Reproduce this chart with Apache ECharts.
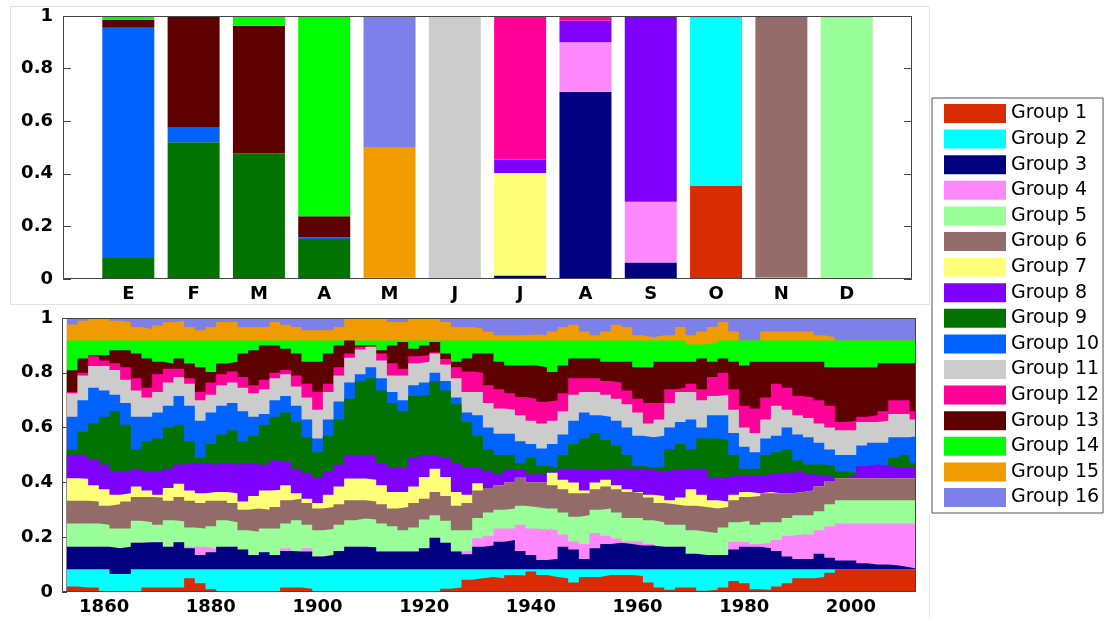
<!DOCTYPE html>
<html>
<head>
<meta charset="utf-8">
<script src="https://cdn.jsdelivr.net/npm/echarts@6.0.0/dist/echarts.min.js"></script>
<style>
html,body{margin:0;padding:0;background:#fff;}
#c{width:1105px;height:619px;}
</style>
</head>
<body>
<div id="c"></div>
<script>
// ---------- categories / labels ----------
const months = ['E','F','M','A','M','J','J','A','S','O','N','D'];
const groupNames = ['Group 1','Group 2','Group 3','Group 4','Group 5','Group 6','Group 7','Group 8',
  'Group 9','Group 10','Group 11','Group 12','Group 13','Group 14','Group 15','Group 16'];
const groupColors = ['#d92b04','#00ffff','#000080','#ff88ff','#99ff99','#936b68','#ffff77','#8000ff',
  '#007300','#0062ff','#cccccc','#ff0099','#5e0000','#00ff00','#f09c00','#7d80e8'];
const yearTicks = [1860,1880,1900,1920,1940,1960,1980,2000];

// ---------- top panel: monthly share of each group (E..D) ----------
const mG1  = [0,0,0,0,0,0,0,0,0,0.354,0,0];
const mG2  = [0,0,0,0,0,0,0,0,0,0.641,0,0];
const mG3  = [0,0,0,0,0,0,0.013,0.712,0.063,0,0,0];
const mG4  = [0,0,0,0,0,0,0,0.188,0.231,0,0,0];
const mG5  = [0,0,0,0,0,0,0,0,0,0,0.006,0.995];
const mG6  = [0,0,0,0,0,0,0,0,0,0,0.994,0];
const mG7  = [0,0,0,0,0,0,0.39,0,0,0,0,0];
const mG8  = [0,0,0,0,0,0,0.05,0.082,0.703,0,0,0];
const mG9  = [0.08,0.52,0.478,0.152,0,0,0,0,0,0,0,0];
const mG10 = [0.875,0.058,0,0.006,0,0,0,0,0,0,0,0];
const mG11 = [0,0,0,0,0,0.995,0,0,0,0,0,0];
const mG12 = [0,0,0,0,0,0,0.547,0.018,0.003,0.005,0,0];
const mG13 = [0.03,0.422,0.485,0.081,0,0,0,0,0,0,0,0];
const mG14 = [0.015,0,0.037,0.761,0.005,0,0,0,0,0,0,0];
const mG15 = [0,0,0,0,0.497,0.005,0,0,0,0,0,0];
const mG16 = [0,0,0,0,0.498,0,0,0,0,0,0,0.005];

// ---------- bottom panel: years (start of each 2-year step) ----------
const years = [
 1853,1855,1857,1859,1861,1863,1865,1867,1869,1871,
 1873,1875,1877,1879,1881,1883,1885,1887,1889,1891,
 1893,1895,1897,1899,1901,1903,1905,1907,1909,1911,
 1913,1915,1917,1919,1921,1923,1925,1927,1929,1931,
 1933,1935,1937,1939,1941,1943,1945,1947,1949,1951,
 1953,1955,1957,1959,1961,1963,1965,1967,1969,1971,
 1973,1975,1977,1979,1981,1983,1985,1987,1989,1991,
 1993,1995,1997,1999,2001,2003,2005,2007,2009,2011];
const yearEnd = 2013;

// upper edge of each group's band (cumulative share)
const edge1 = [
 0.02,0.016,0.016,0,0,0,0,0.016,0.016,0.016,
 0.016,0.05,0.032,0.01,0,0,0,0,0,0,
 0.016,0.016,0.012,0,0,0,0,0,0,0,
 0,0,0,0,0,0.012,0.016,0.045,0.05,0.055,
 0.05,0.062,0.06,0.075,0.062,0.055,0.05,0.035,0.055,0.055,
 0.062,0.062,0.062,0.058,0.035,0.016,0.008,0.016,0.016,0.005,
 0.008,0.016,0.04,0.032,0.01,0.008,0.02,0.032,0.05,0.05,
 0.055,0.07,0.083,0.083,0.083,0.083,0.083,0.083,0.083,0.083];
const edge2 = [
 0.083,0.083,0.083,0.083,0.066,0.066,0.083,0.083,0.083,0.083,
 0.083,0.083,0.083,0.083,0.083,0.083,0.083,0.083,0.083,0.083,
 0.083,0.083,0.083,0.083,0.083,0.083,0.083,0.083,0.083,0.083,
 0.083,0.083,0.083,0.083,0.083,0.083,0.083,0.083,0.083,0.083,
 0.083,0.083,0.083,0.083,0.083,0.083,0.083,0.083,0.083,0.083,
 0.083,0.083,0.083,0.083,0.083,0.083,0.083,0.083,0.083,0.083,
 0.083,0.083,0.083,0.083,0.083,0.083,0.083,0.083,0.083,0.083,
 0.083,0.083,0.083,0.083,0.083,0.083,0.083,0.083,0.083,0.083];
const edge3 = [
 0.165,0.165,0.165,0.165,0.16,0.165,0.18,0.182,0.182,0.165,
 0.182,0.16,0.135,0.145,0.165,0.165,0.155,0.135,0.145,0.135,
 0.15,0.148,0.148,0.13,0.135,0.15,0.165,0.165,0.163,0.148,
 0.148,0.148,0.148,0.16,0.198,0.18,0.148,0.138,0.165,0.17,
 0.183,0.19,0.15,0.135,0.117,0.12,0.165,0.155,0.12,0.16,
 0.175,0.18,0.175,0.17,0.17,0.165,0.165,0.165,0.14,0.135,
 0.135,0.135,0.155,0.165,0.165,0.16,0.15,0.13,0.12,0.12,
 0.14,0.125,0.115,0.115,0.105,0.1,0.1,0.097,0.09,0.083];
const edge4 = [
 0.165,0.165,0.165,0.165,0.16,0.165,0.18,0.182,0.182,0.165,
 0.182,0.165,0.165,0.158,0.165,0.165,0.155,0.135,0.145,0.135,
 0.16,0.148,0.16,0.13,0.135,0.15,0.165,0.165,0.163,0.148,
 0.148,0.148,0.148,0.16,0.198,0.18,0.148,0.15,0.196,0.205,
 0.232,0.232,0.245,0.232,0.228,0.228,0.21,0.185,0.175,0.215,
 0.205,0.195,0.185,0.185,0.175,0.165,0.165,0.165,0.14,0.135,
 0.135,0.135,0.183,0.183,0.175,0.18,0.19,0.205,0.21,0.21,
 0.225,0.24,0.25,0.25,0.25,0.25,0.25,0.25,0.25,0.25];
const edge5 = [
 0.25,0.25,0.25,0.245,0.232,0.232,0.26,0.255,0.245,0.262,
 0.258,0.235,0.232,0.24,0.262,0.255,0.225,0.22,0.232,0.232,
 0.25,0.262,0.245,0.225,0.23,0.245,0.262,0.268,0.265,0.25,
 0.24,0.225,0.235,0.265,0.28,0.26,0.225,0.225,0.27,0.29,
 0.3,0.305,0.315,0.31,0.305,0.305,0.29,0.275,0.28,0.3,
 0.305,0.29,0.27,0.27,0.262,0.255,0.245,0.245,0.225,0.22,
 0.215,0.235,0.255,0.26,0.245,0.255,0.255,0.27,0.28,0.28,
 0.295,0.32,0.335,0.335,0.335,0.335,0.335,0.335,0.335,0.335];
const edge6 = [
 0.333,0.333,0.33,0.315,0.32,0.33,0.347,0.347,0.345,0.333,
 0.347,0.333,0.325,0.333,0.333,0.325,0.3,0.305,0.3,0.31,
 0.335,0.34,0.325,0.305,0.31,0.32,0.335,0.335,0.33,0.32,
 0.305,0.31,0.325,0.34,0.365,0.35,0.315,0.325,0.37,0.38,
 0.39,0.4,0.42,0.4,0.4,0.39,0.375,0.36,0.36,0.375,
 0.385,0.375,0.365,0.36,0.345,0.325,0.32,0.315,0.315,0.31,
 0.305,0.31,0.335,0.347,0.35,0.36,0.36,0.36,0.365,0.37,
 0.385,0.405,0.415,0.415,0.415,0.415,0.415,0.415,0.415,0.415];
const edge7 = [
 0.415,0.413,0.39,0.375,0.355,0.36,0.385,0.37,0.355,0.38,
 0.395,0.37,0.36,0.365,0.365,0.36,0.33,0.35,0.37,0.372,
 0.39,0.36,0.34,0.325,0.355,0.385,0.414,0.414,0.41,0.39,
 0.365,0.365,0.385,0.42,0.45,0.42,0.365,0.355,0.397,0.38,
 0.39,0.4,0.42,0.4,0.4,0.435,0.41,0.4,0.37,0.4,
 0.41,0.39,0.375,0.365,0.355,0.35,0.335,0.345,0.375,0.355,
 0.335,0.33,0.355,0.365,0.36,0.365,0.36,0.36,0.365,0.37,
 0.385,0.405,0.415,0.415,0.415,0.415,0.415,0.415,0.415,0.415];
const edge8 = [
 0.5,0.495,0.485,0.465,0.44,0.44,0.45,0.44,0.44,0.45,
 0.465,0.47,0.47,0.465,0.47,0.465,0.47,0.465,0.465,0.48,
 0.475,0.45,0.435,0.42,0.44,0.465,0.5,0.5,0.495,0.47,
 0.455,0.455,0.49,0.5,0.5,0.49,0.47,0.455,0.45,0.44,
 0.43,0.445,0.45,0.43,0.43,0.44,0.45,0.45,0.445,0.445,
 0.45,0.45,0.45,0.45,0.445,0.44,0.445,0.45,0.45,0.45,
 0.42,0.42,0.425,0.425,0.425,0.43,0.435,0.435,0.44,0.43,
 0.425,0.42,0.42,0.425,0.46,0.465,0.46,0.455,0.455,0.455];
const edge9 = [
 0.52,0.585,0.615,0.64,0.66,0.61,0.52,0.55,0.56,0.6,
 0.61,0.55,0.49,0.54,0.575,0.59,0.55,0.57,0.61,0.64,
 0.655,0.62,0.565,0.51,0.57,0.63,0.705,0.77,0.78,0.735,
 0.69,0.66,0.715,0.72,0.77,0.735,0.685,0.62,0.57,0.52,
 0.5,0.5,0.47,0.49,0.46,0.455,0.5,0.54,0.56,0.58,
 0.555,0.535,0.5,0.46,0.455,0.455,0.52,0.54,0.52,0.56,
 0.56,0.555,0.5,0.45,0.45,0.5,0.51,0.52,0.48,0.465,
 0.465,0.46,0.44,0.435,0.46,0.465,0.46,0.49,0.5,0.47];
const edge10 = [
 0.64,0.7,0.745,0.735,0.72,0.69,0.64,0.64,0.655,0.68,
 0.715,0.68,0.625,0.655,0.68,0.69,0.66,0.64,0.65,0.7,
 0.715,0.68,0.63,0.56,0.63,0.695,0.765,0.795,0.82,0.78,
 0.73,0.7,0.755,0.765,0.8,0.77,0.71,0.655,0.645,0.6,
 0.578,0.578,0.55,0.54,0.524,0.54,0.575,0.625,0.655,0.645,
 0.64,0.625,0.6,0.57,0.565,0.57,0.6,0.62,0.63,0.6,
 0.645,0.645,0.58,0.53,0.51,0.56,0.57,0.6,0.575,0.565,
 0.545,0.52,0.5,0.5,0.535,0.545,0.545,0.565,0.565,0.57];
const edge11 = [
 0.725,0.79,0.825,0.825,0.81,0.775,0.735,0.71,0.73,0.765,
 0.785,0.76,0.7,0.72,0.755,0.765,0.745,0.725,0.74,0.78,
 0.795,0.75,0.71,0.665,0.73,0.79,0.855,0.885,0.895,0.845,
 0.79,0.79,0.835,0.84,0.87,0.83,0.78,0.73,0.73,0.69,
 0.67,0.665,0.645,0.625,0.615,0.625,0.66,0.72,0.73,0.73,
 0.72,0.705,0.685,0.655,0.615,0.63,0.69,0.73,0.73,0.7,
 0.715,0.72,0.665,0.6,0.58,0.63,0.68,0.665,0.645,0.635,
 0.615,0.6,0.59,0.59,0.62,0.62,0.625,0.65,0.65,0.63];
const edge12 = [
 0.73,0.8,0.86,0.845,0.835,0.82,0.78,0.745,0.795,0.815,
 0.815,0.78,0.73,0.765,0.795,0.805,0.785,0.755,0.775,0.8,
 0.81,0.79,0.76,0.73,0.76,0.82,0.87,0.895,0.897,0.87,
 0.835,0.815,0.86,0.865,0.875,0.85,0.82,0.805,0.8,0.755,
 0.74,0.725,0.712,0.705,0.694,0.7,0.725,0.78,0.78,0.78,
 0.77,0.765,0.735,0.705,0.69,0.69,0.74,0.745,0.76,0.74,
 0.785,0.8,0.74,0.68,0.67,0.71,0.76,0.745,0.715,0.71,
 0.7,0.68,0.62,0.625,0.64,0.645,0.66,0.7,0.7,0.66];
const edge13 = [
 0.809,0.852,0.864,0.864,0.882,0.882,0.87,0.852,0.84,0.834,
 0.852,0.834,0.82,0.803,0.834,0.84,0.87,0.882,0.9,0.9,
 0.888,0.87,0.84,0.84,0.87,0.9,0.918,0.9,0.9,0.882,
 0.9,0.912,0.888,0.9,0.912,0.87,0.84,0.852,0.87,0.87,
 0.84,0.827,0.827,0.827,0.82,0.803,0.827,0.852,0.852,0.852,
 0.84,0.84,0.84,0.82,0.82,0.84,0.84,0.84,0.84,0.852,
 0.84,0.852,0.84,0.827,0.84,0.84,0.84,0.84,0.84,0.84,
 0.84,0.82,0.82,0.82,0.82,0.82,0.835,0.835,0.835,0.835];
const edge14 = [
 0.918,0.918,0.918,0.918,0.918,0.918,0.918,0.918,0.918,0.918,
 0.918,0.918,0.918,0.918,0.918,0.918,0.918,0.918,0.918,0.918,
 0.918,0.918,0.918,0.918,0.918,0.918,0.918,0.918,0.918,0.918,
 0.918,0.918,0.918,0.918,0.918,0.918,0.918,0.918,0.918,0.918,
 0.918,0.918,0.918,0.918,0.918,0.918,0.918,0.918,0.918,0.918,
 0.918,0.918,0.918,0.918,0.918,0.918,0.918,0.918,0.903,0.903,
 0.91,0.918,0.918,0.918,0.918,0.918,0.918,0.918,0.918,0.918,
 0.918,0.918,0.918,0.918,0.918,0.918,0.918,0.918,0.918,0.918];
const edge15 = [
 0.976,0.99,1,1,0.99,0.985,0.967,0.96,0.973,0.985,
 0.99,0.967,0.955,0.967,0.985,0.985,0.967,0.967,0.967,0.985,
 0.975,0.967,0.955,0.955,0.955,0.967,1,1,1,1,
 0.985,0.985,1,1,1,0.985,0.967,0.967,0.962,0.95,
 0.937,0.937,0.937,0.94,0.937,0.951,0.967,0.975,0.951,0.937,
 0.951,0.975,0.967,0.937,0.93,0.937,0.937,0.967,0.937,0.951,
 0.967,0.985,0.951,0.918,0.918,0.951,0.951,0.951,0.951,0.951,
 0.937,0.93,0.918,0.918,0.918,0.918,0.918,0.918,0.918,0.918];
const edge16 = [
 1,1,1,1,1,1,1,1,1,1,
 1,1,1,1,1,1,1,1,1,1,
 1,1,1,1,1,1,1,1,1,1,
 1,1,1,1,1,1,1,1,1,1,
 1,1,1,1,1,1,1,1,1,1,
 1,1,1,1,1,1,1,1,1,1,
 1,1,1,1,1,1,1,1,1,1,
 1,1,1,1,1,1,1,1,1,1];

// ---------- build options ----------
const monthVals = [mG1,mG2,mG3,mG4,mG5,mG6,mG7,mG8,mG9,mG10,mG11,mG12,mG13,mG14,mG15,mG16];
const edges = [edge1,edge2,edge3,edge4,edge5,edge6,edge7,edge8,edge9,edge10,edge11,edge12,edge13,edge14,edge15,edge16];

// the month axis has an empty slot at each end (bars sit on ticks 1..12 of 0..13)
const monthSlots = [''].concat(months).concat(['']);

const FONT = 'DejaVu Sans';
const labelStyle = {color:'#000', fontFamily:FONT, fontWeight:'bold', fontSize:18};
const fmtShare = v => String(Math.round(v*10)/10);

const series = [];
groupNames.forEach((n,i)=>{
  series.push({
    name:n, type:'bar', xAxisIndex:0, yAxisIndex:0, stack:'month', barWidth:52,
    itemStyle:{color:groupColors[i]}, emphasis:{disabled:true}, silent:true,
    data: [0].concat(monthVals[i]).concat([0])
  });
});
for (let i = groupNames.length-1; i >= 0; i--) {
  const e = edges[i];
  series.push({
    name:groupNames[i], type:'line', xAxisIndex:1, yAxisIndex:2, step:'end',
    symbol:'none', showSymbol:false, silent:true,
    lineStyle:{width:0, color:groupColors[i]},
    itemStyle:{color:groupColors[i]},
    areaStyle:{color:groupColors[i], opacity:1},
    emphasis:{disabled:true},
    data: years.map((y,k)=>[y, e[k]]).concat([[yearEnd, e[e.length-1]]])
  });
}

const option = {
  animation:false,
  backgroundColor:'#ffffff',
  textStyle:{fontFamily:FONT},
  legend:{
    data:groupNames, orient:'vertical', left:932, top:98,
    itemWidth:62, itemHeight:19, itemGap:6.6, icon:'rect',
    padding:[6,4,6,12], borderColor:'#555', borderWidth:1, backgroundColor:'#fff',
    textStyle:{fontSize:19, color:'#000', fontFamily:FONT}, selectedMode:false
  },
  grid:[
    {left:63, top:16, width:849, height:263},
    {left:62, top:318, width:854, height:274}
  ],
  xAxis:[
    {gridIndex:0, type:'category', data:monthSlots, boundaryGap:false,
     axisLine:{show:false}, axisTick:{show:false}, splitLine:{show:false},
     axisLabel:Object.assign({margin:6, interval:0}, labelStyle)},
    {gridIndex:1, type:'value', min:1852.1, max:2012.2,
     axisLine:{show:false}, axisTick:{show:false}, splitLine:{show:false},
     axisLabel:Object.assign({margin:6, customValues:yearTicks, formatter:v => String(v)}, labelStyle)}
  ],
  yAxis:[
    {gridIndex:0, type:'value', min:0, max:1, interval:0.2,
     axisLine:{show:false}, splitLine:{show:false},
     axisTick:{show:true, inside:true, length:8, lineStyle:{color:'#444'}},
     axisLabel:Object.assign({margin:10, formatter:fmtShare}, labelStyle)},
    {gridIndex:0, type:'value', min:0, max:1, interval:0.2, position:'right',
     axisLine:{show:false}, splitLine:{show:false},
     axisTick:{show:true, inside:true, length:8, lineStyle:{color:'#444'}},
     axisLabel:{show:false}},
    {gridIndex:1, type:'value', min:0, max:1, interval:0.2,
     axisLine:{show:false}, splitLine:{show:false},
     axisTick:{show:true, inside:true, length:5, lineStyle:{color:'#444'}},
     axisLabel:Object.assign({margin:9, formatter:fmtShare}, labelStyle)}
  ],
  graphic:[
    {type:'rect', z:0, silent:true, shape:{x:10.5, y:6.5, width:919, height:298},
     style:{fill:'none', stroke:'#e2e2e2', lineWidth:1}},
    {type:'line', z:0, silent:true, shape:{x1:929.5, y1:516, x2:929.5, y2:619},
     style:{stroke:'#e2e2e2', lineWidth:1}},
    {type:'rect', z:100, silent:true, shape:{x:63.5, y:16.5, width:848, height:262},
     style:{fill:'none', stroke:'#444', lineWidth:1}},
    {type:'rect', z:100, silent:true, shape:{x:62.5, y:318.5, width:853, height:273},
     style:{fill:'none', stroke:'#444', lineWidth:1}}
  ],
  series:series
};

const chart = echarts.init(document.getElementById('c'), null, {renderer:'canvas'});
chart.setOption(option);
</script>
</body>
</html>
